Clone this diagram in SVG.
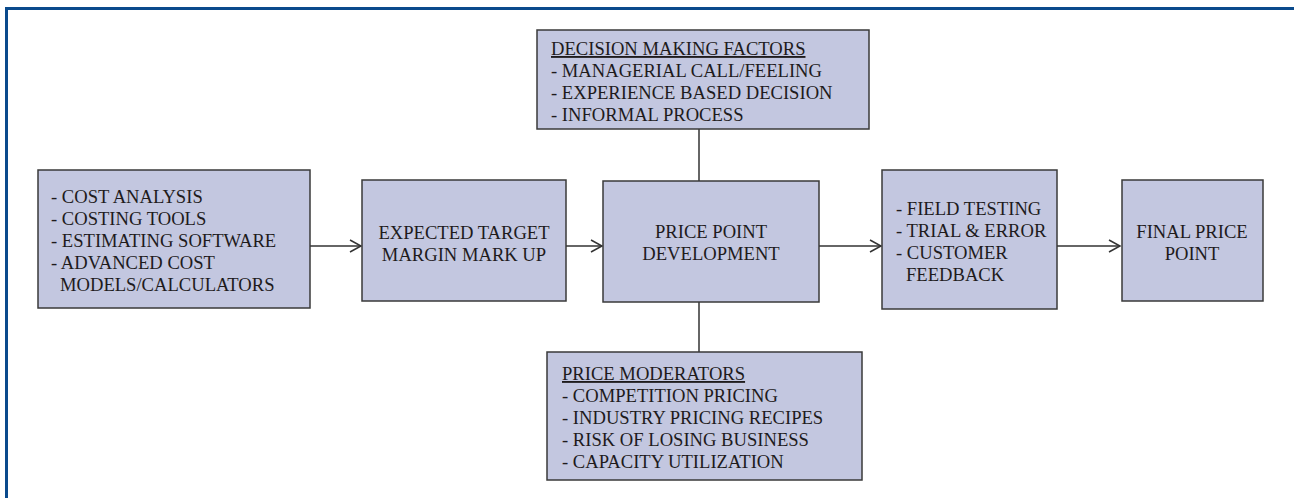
<svg xmlns="http://www.w3.org/2000/svg" width="1294" height="498" viewBox="0 0 1294 498">
  <style>
    .box { fill: #c3c7e0; stroke: #3a3a3a; stroke-width: 1.5; }
    .t { font-family: "Liberation Serif", "Times New Roman", serif; font-size: 18.6px; fill: #1e1b1c; }
    .c { text-anchor: middle; }
    .u { text-decoration: underline; }
    .wire { stroke: #333333; stroke-width: 1.5; fill: none; }
  </style>
  <defs>
    <marker id="open-arrow" markerWidth="14" markerHeight="14" refX="12" refY="7" orient="auto" markerUnits="userSpaceOnUse">
      <path d="M1,1 L12,7 L1,13" fill="none" stroke="#333333" stroke-width="1.5"/>
    </marker>
  </defs>

  <rect width="1294" height="498" fill="#ffffff"/>
  <!-- frame -->
  <path d="M6.5,498 V8.5 H1294" fill="none" stroke="#0a4a8c" stroke-width="3"/>

  <g id="connectors">
    <line class="wire" x1="310" y1="246" x2="361" y2="246" marker-end="url(#open-arrow)"/>
    <line class="wire" x1="566" y1="246" x2="602" y2="246" marker-end="url(#open-arrow)"/>
    <line class="wire" x1="819" y1="246" x2="881" y2="246" marker-end="url(#open-arrow)"/>
    <line class="wire" x1="1057" y1="246" x2="1120" y2="246" marker-end="url(#open-arrow)"/>
    <line class="wire" x1="699" y1="129" x2="699" y2="181"/>
    <line class="wire" x1="699" y1="302" x2="699" y2="352"/>
  </g>

  <g id="cost-inputs">
    <rect class="box" x="38" y="170" width="272" height="138"/>
    <text class="t" x="51" y="203">- COST ANALYSIS</text>
    <text class="t" x="51" y="225">- COSTING TOOLS</text>
    <text class="t" x="51" y="247">- ESTIMATING SOFTWARE</text>
    <text class="t" x="51" y="269">- ADVANCED COST</text>
    <text class="t" x="60" y="291">MODELS/CALCULATORS</text>
  </g>

  <g id="target-margin">
    <rect class="box" x="362" y="180" width="204" height="121"/>
    <text class="t c" x="464" y="239">EXPECTED TARGET</text>
    <text class="t c" x="464" y="261">MARGIN MARK UP</text>
  </g>

  <g id="price-point-development">
    <rect class="box" x="603" y="181" width="216" height="121"/>
    <text class="t c" x="711" y="238">PRICE POINT</text>
    <text class="t c" x="711" y="260">DEVELOPMENT</text>
  </g>

  <g id="decision-factors">
    <rect class="box" x="537" y="30" width="332" height="99"/>
    <text class="t u" x="551" y="55">DECISION MAKING FACTORS</text>
    <text class="t" x="551" y="77">- MANAGERIAL CALL/FEELING</text>
    <text class="t" x="551" y="99">- EXPERIENCE BASED DECISION</text>
    <text class="t" x="551" y="121">- INFORMAL PROCESS</text>
  </g>

  <g id="price-moderators">
    <rect class="box" x="547" y="352" width="315" height="128"/>
    <text class="t u" x="562" y="380">PRICE MODERATORS</text>
    <text class="t" x="562" y="402">- COMPETITION PRICING</text>
    <text class="t" x="562" y="424">- INDUSTRY PRICING RECIPES</text>
    <text class="t" x="562" y="446">- RISK OF LOSING BUSINESS</text>
    <text class="t" x="562" y="468">- CAPACITY UTILIZATION</text>
  </g>

  <g id="market-testing">
    <rect class="box" x="882" y="170" width="175" height="139"/>
    <text class="t" x="896" y="215">- FIELD TESTING</text>
    <text class="t" x="896" y="237">- TRIAL &amp; ERROR</text>
    <text class="t" x="896" y="259">- CUSTOMER</text>
    <text class="t" x="906" y="281">FEEDBACK</text>
  </g>

  <g id="final-price-point">
    <rect class="box" x="1122" y="180" width="141" height="121"/>
    <text class="t c" x="1192" y="238">FINAL PRICE</text>
    <text class="t c" x="1192" y="260">POINT</text>
  </g>
</svg>
